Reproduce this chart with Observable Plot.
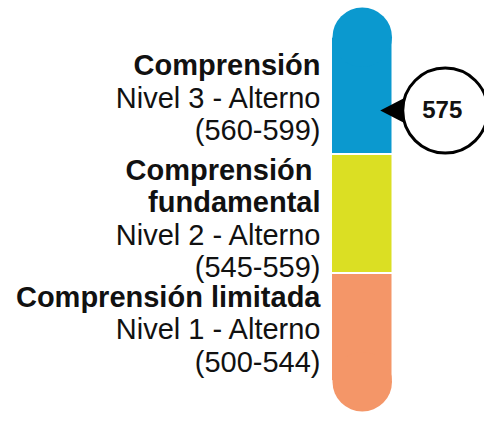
<!DOCTYPE html>
<html>
<head>
<meta charset="utf-8">
<script src="https://cdn.jsdelivr.net/npm/d3@7"></script>
<script src="https://cdn.jsdelivr.net/npm/@observablehq/plot@0.6"></script>
<style>
  html, body { margin: 0; padding: 0; background: #fff; overflow: hidden; }
  svg text, svg tspan { white-space: pre; }
</style>
</head>
<body>
<div id="chart"></div>
<script>
// ---- data ----
const titles = [["Comprensión"], ["Comprensión ", "fundamental"], ["Comprensión limitada"]];
const levelNames = ["Nivel 3 - Alterno", "Nivel 2 - Alterno", "Nivel 1 - Alterno"];
const lows = [560, 545, 500];
const highs = [599, 559, 544];
const colors = ["#0b99cf", "#dbdf23", "#f49668"];
const score = 575;

const rows = titles.map((t, i) => ({
  title: t,
  text: [...t, levelNames[i], `(${lows[i]}-${highs[i]})`].join("\n"),
  lo: lows[i],
  hi: highs[i] + 1,
  mid: (lows[i] + highs[i]) / 2,
  color: colors[i]
}));
const caps = [
  {y: highs[0] + 1, color: colors[0]},
  {y: lows[2], color: colors[2]}
];
const col = () => "puntaje";

const arrowSymbol = {
  draw(context) {
    context.moveTo(-65, 0);
    context.lineTo(-38, -14);
    context.lineTo(-38, 14);
    context.closePath();
  }
};

const chart = Plot.plot({
  width: 484,
  height: 421,
  margin: 0,
  style: {fontFamily: "'Liberation Sans', Arial, sans-serif", background: "#fff", overflow: "hidden"},
  x: {type: "band", domain: ["puntaje"], range: [332, 391.5], padding: 0, round: false, axis: null},
  y: {type: "linear", domain: [500, 545, 560, 600], range: [381.25, 273, 154, 36.75], axis: null},
  color: {type: "identity"},
  marks: [
    Plot.barY(rows, {x: col, y1: "lo", y2: "hi", fill: "color", insetTop: 1, insetBottom: 1}),
    Plot.dot(caps, {x: col, y: "y", r: 29.75, fill: "color", stroke: "none"}),
    Plot.text(rows, {
      x: col, y: "mid", text: "text", textAnchor: "end", dx: -41.75,
      lineAnchor: "middle", lineHeight: 1.12, fontSize: 29, fill: "#111"
    }),
    Plot.dot([score], {x: col, y: d => d, dx: 83, symbol: arrowSymbol, fill: "#000", stroke: "none"}),
    Plot.dot([score], {x: col, y: d => d, dx: 83, r: 42.5, fill: "#fff", stroke: "#000", strokeWidth: 3}),
    Plot.text([score], {x: col, y: d => d, dx: 80, text: d => String(d), fontSize: 24, fontWeight: "bold", fill: "#111"})
  ]
});

// bold title lines (match the longest title prefix)
const multiTexts = Array.from(chart.querySelectorAll("text")).filter(t => t.querySelectorAll("tspan").length > 1);
multiTexts.forEach((t) => {
  const candidates = rows.filter(r => t.textContent.startsWith(r.title.join("")));
  if (!candidates.length) return;
  const row = candidates.reduce((a, b) => (b.title.join("").length > a.title.join("").length ? b : a));
  const spans = t.querySelectorAll("tspan");
  for (let k = 0; k < row.title.length && k < spans.length; k++) {
    spans[k].setAttribute("font-weight", "bold");
  }
});

document.getElementById("chart").appendChild(chart);
</script>
</body>
</html>
